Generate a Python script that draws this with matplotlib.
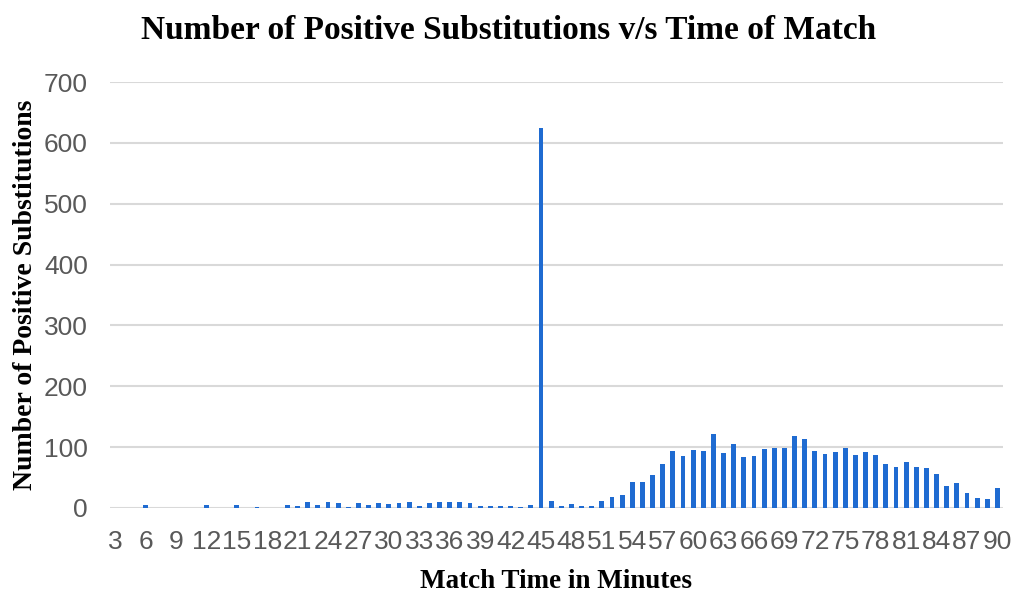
import matplotlib.pyplot as plt
import numpy as np

# match minute (categories 3..90) and number of positive substitutions
minutes = list(range(3, 91))
subs = [
    0, 0, 0, 5, 0, 0, 0, 0, 0, 5,          # 3-12
    0, 0, 5, 0, 2, 0, 0, 5, 3, 9,          # 13-22
    5, 9, 8, 2, 8, 5, 8, 6, 8, 10,         # 23-32
    4, 8, 10, 10, 10, 8, 4, 4, 4, 4,       # 33-42
    2, 5, 625, 11, 4, 7, 4, 4, 11, 18,     # 43-52
    21, 42, 42, 55, 73, 93, 86, 95, 93, 122,  # 53-62
    91, 105, 84, 86, 97, 99, 99, 118, 113, 94,  # 63-72
    89, 92, 99, 87, 92, 87, 72, 68, 75, 68,     # 73-82
    66, 56, 36, 41, 24, 17, 15, 32,             # 83-90
]
tick_minutes = list(range(3, 91, 3))

fig = plt.figure(figsize=(10.23, 5.96), dpi=100)
ax = fig.add_axes([0.1075, 0.1477, 0.8725, 0.7147])

x = np.arange(len(minutes))
ax.bar(x, subs, width=0.48, color="#1f6bd1", zorder=3)

ax.set_ylim(0, 700)
ax.set_xlim(-0.5, len(minutes) - 0.5)
ax.set_yticks(range(0, 701, 100))
ax.set_xticks([minutes.index(m) for m in tick_minutes])
ax.set_xticklabels([str(m) for m in tick_minutes])

ax.grid(axis="y", color="#d9d9d9", linewidth=1.5, zorder=0)
for s in ax.spines.values():
    s.set_visible(False)
ax.tick_params(length=0, labelsize=19, labelcolor="#595959")
ax.tick_params(axis="y", pad=16)
ax.tick_params(axis="x", pad=16)
for lab in ax.get_xticklabels() + ax.get_yticklabels():
    lab.set_family("Liberation Sans")

serif = {"family": "Liberation Serif", "weight": "bold"}
fig.suptitle("Number of Positive Substitutions v/s Time of Match",
             x=0.497, y=0.975, fontsize=24, **serif)
ax.set_xlabel("Match Time in Minutes", fontsize=19.5, labelpad=11, **serif)
ax.set_ylabel("Number of Positive Substitutions", fontsize=20, labelpad=4, **serif)

fig.savefig("out.png", dpi=100)
